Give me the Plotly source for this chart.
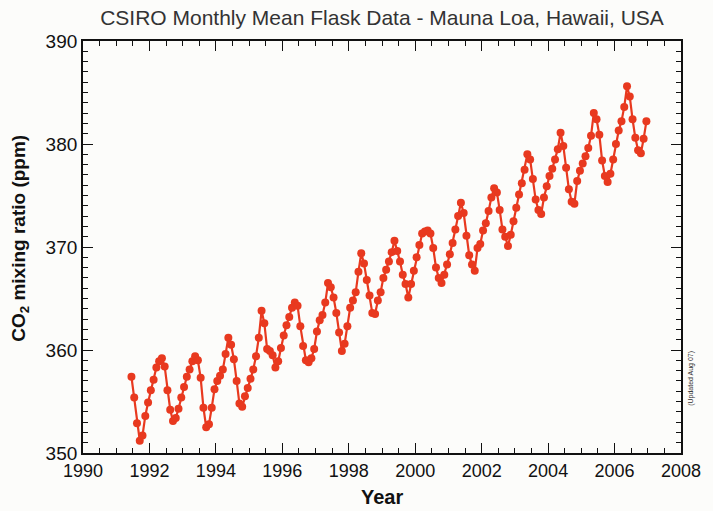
import plotly.graph_objects as go

# ---- data ----
start_year = 1991
start_month = 6  # June 1991
co2_ppm = [
    # 1991 (Jun-Dec)
    357.4, 355.4, 352.9, 351.2, 351.7, 353.6, 354.9,
    # 1992
    356.1, 357.1, 358.3, 358.9, 359.2, 358.4, 356.1, 354.2, 353.1, 353.4, 354.3, 355.4,
    # 1993
    356.4, 357.4, 358.1, 358.9, 359.4, 359.0, 357.3, 354.4, 352.5, 352.8, 354.4, 356.2,
    # 1994
    357.0, 357.5, 358.1, 359.6, 361.2, 360.5, 359.1, 357.0, 354.8, 354.5, 355.5, 356.3,
    # 1995
    357.2, 358.1, 359.4, 361.2, 363.8, 362.6, 360.1, 359.9, 359.5, 358.3, 358.9, 360.2,
    # 1996
    361.4, 362.4, 363.2, 364.1, 364.6, 364.3, 362.3, 360.4, 359.0, 358.8, 359.2, 360.1,
    # 1997
    361.8, 362.9, 363.4, 364.6, 366.5, 366.1, 365.1, 363.6, 361.7, 359.9, 360.6, 362.3,
    # 1998
    364.1, 364.8, 365.6, 367.6, 369.4, 368.4, 366.8, 365.3, 363.6, 363.5, 364.8, 365.6,
    # 1999
    367.0, 367.8, 368.6, 369.5, 370.6, 369.6, 368.6, 367.3, 366.4, 365.1, 366.4, 367.7,
    # 2000
    369.0, 370.2, 371.3, 371.5, 371.6, 371.3, 369.9, 368.0, 367.0, 366.5, 367.3, 368.3,
    # 2001
    369.3, 370.4, 371.7, 373.0, 374.3, 373.3, 371.1, 369.2, 368.3, 367.7, 369.9, 370.3,
    # 2002
    371.6, 372.3, 373.5, 374.8, 375.7, 375.3, 373.6, 371.7, 371.0, 370.1, 371.2, 372.5,
    # 2003
    373.8, 375.1, 376.2, 377.5, 379.0, 378.5, 376.6, 374.6, 373.6, 373.2, 374.8, 375.9,
    # 2004
    376.9, 377.6, 378.5, 379.5, 381.1, 379.8, 377.7, 375.6, 374.4, 374.2, 376.4, 377.4,
    # 2005
    378.1, 378.8, 379.6, 380.8, 383.0, 382.4, 380.9, 378.4, 376.9, 376.3, 377.1, 378.5,
    # 2006
    380.0, 381.3, 382.2, 383.6, 385.6, 384.6, 382.4, 380.6, 379.4, 379.1, 380.5, 382.2,
]
x_tick_vals = [1990, 1992, 1994, 1996, 1998, 2000, 2002, 2004, 2006, 2008]
x_tick_text = ["1990", "1992", "1994", "1996", "1998", "2000", "2002", "2004", "2006", "2008"]
y_tick_vals = [350, 360, 370, 380, 390]
y_tick_text = ["350", "360", "370", "380", "390"]

title_text = "CSIRO Monthly Mean Flask Data - Mauna Loa, Hawaii, USA"
x_title = "Year"
y_title = "CO<sub>2</sub> mixing ratio (ppm)"
note_text = "(Updated Aug 07)"

# decimal year at mid-month
dec_year = [start_year + (start_month - 1 + i + 0.5) / 12.0 for i in range(len(co2_ppm))]

red = "#e8391f"
ink = "#111111"
font_main = "Liberation Sans, Arial, Helvetica, sans-serif"

fig = go.Figure()
fig.add_trace(go.Scatter(
    x=dec_year, y=co2_ppm, mode="lines+markers",
    line=dict(color=red, width=2.2),
    marker=dict(color=red, size=8),
    showlegend=False, hoverinfo="x+y",
))
# invisible trace to anchor the mirrored (top / right) tick axes
fig.add_trace(go.Scatter(
    x=[1990], y=[350], xaxis="x2", yaxis="y2", mode="markers",
    marker=dict(size=1, opacity=0), showlegend=False, hoverinfo="skip",
))

base = dict(showgrid=False, zeroline=False, showline=True, linecolor=ink,
            ticks="inside", tickcolor=ink, tickwidth=1.4, ticklen=10)

fig.update_layout(
    xaxis=dict(
        range=[1990, 2008], tickvals=x_tick_vals, ticktext=x_tick_text,
        linewidth=2.2, mirror=False,
        tickfont=dict(family=font_main, size=18, color=ink),
        minor=dict(dtick=0.5, tick0=1990, ticks="inside", ticklen=5, tickcolor=ink, tickwidth=1.3),
        **base,
    ),
    yaxis=dict(
        range=[350, 390], tickvals=y_tick_vals, ticktext=y_tick_text,
        linewidth=1.8, mirror=False,
        tickfont=dict(family=font_main, size=19, color=ink),
        minor=dict(dtick=1, tick0=350, ticks="inside", ticklen=5, tickcolor=ink, tickwidth=1.3),
        **base,
    ),
    xaxis2=dict(
        overlaying="x", side="top", anchor="y2", matches="x",
        range=[1990, 2008], tickvals=x_tick_vals, showticklabels=False, linewidth=1.5,
        minor=dict(dtick=0.5, tick0=1990, ticks="inside", ticklen=5, tickcolor=ink, tickwidth=1.3),
        **base,
    ),
    yaxis2=dict(
        overlaying="y", side="right", anchor="x2",
        range=[350, 390], tickvals=y_tick_vals, showticklabels=False, linewidth=1.5,
        minor=dict(dtick=1, tick0=350, ticks="inside", ticklen=5, tickcolor=ink, tickwidth=1.3),
        **base,
    ),
)

fig.add_annotation(
    text="<b>" + x_title + "</b>", xref="paper", yref="paper", x=0.5, y=0,
    xanchor="center", yanchor="middle", yshift=-44, showarrow=False,
    font=dict(family=font_main, size=20, color=ink),
)
fig.add_annotation(
    text="<b>" + y_title + "</b>", xref="paper", yref="paper", x=0, y=0.52,
    xanchor="center", yanchor="middle", xshift=-63, textangle=-90, showarrow=False,
    font=dict(family=font_main, size=19, color=ink),
)
fig.add_annotation(
    text=note_text, xref="paper", yref="paper", x=1.0, y=0.18,
    xanchor="left", yanchor="middle", xshift=4, textangle=-90,
    showarrow=False, font=dict(family=font_main, size=7, color="#333"),
)

fig.update_layout(
    width=713, height=511,
    margin=dict(l=83, r=21, t=41, b=58),
    paper_bgcolor="#fcfcfa", plot_bgcolor="#fcfcfa",
    title=dict(text=title_text, x=0.5, xref="paper", xanchor="center",
               y=0.965, yanchor="middle",
               font=dict(family=font_main, size=21, color="#333")),
)

fig.write_html("out.html", config={"displayModeBar": False},
               post_script="document.body.style.margin='0';")
